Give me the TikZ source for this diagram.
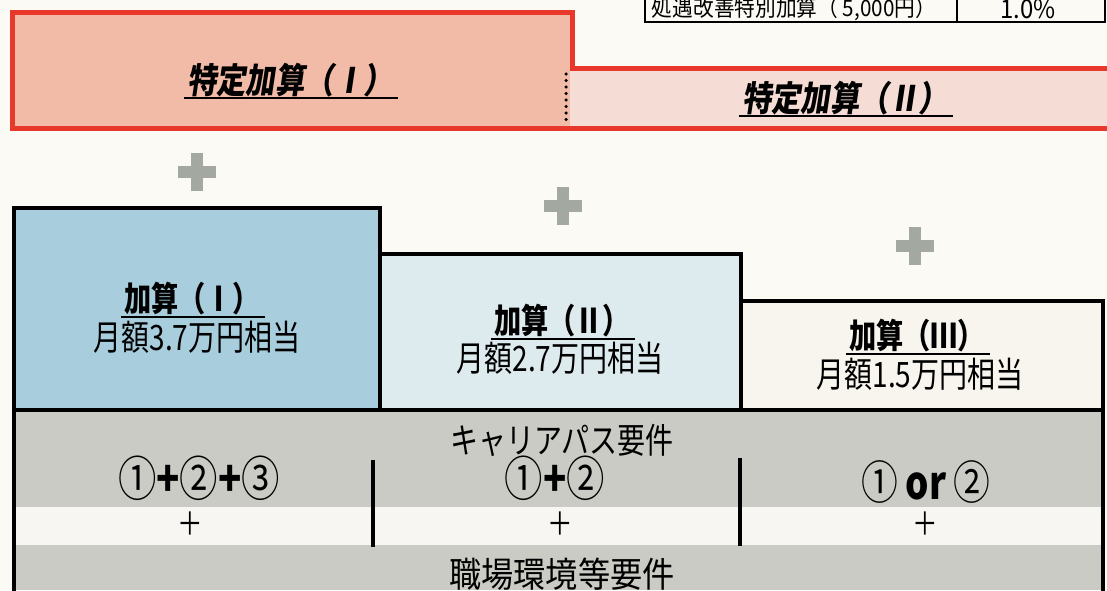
\documentclass[tikz,border=0pt]{standalone}
\usepackage{fontspec}
\newfontfamily\jp[FakeStretch=0.8]{Noto Sans CJK JP}
\newfontfamily\jpw[FakeStretch=0.92]{Noto Sans CJK JP}
\newfontfamily\jpsl[FakeStretch=0.84,FakeSlant=0.15]{Noto Sans CJK JP}
\definecolor{bgcol}{HTML}{FCFAF4}
\definecolor{pinkA}{HTML}{F2BBA8}
\definecolor{pinkB}{HTML}{F5DDD5}
\definecolor{redline}{HTML}{E8382B}
\definecolor{blueA}{HTML}{A8CEDD}
\definecolor{blueB}{HTML}{DDEAEE}
\definecolor{creamC}{HTML}{F8F5EE}
\definecolor{grayA}{HTML}{CBCBC5}
\definecolor{bandW}{HTML}{F7F6F2}
\definecolor{plusgray}{HTML}{A3A9A1}
\tikzset{
  txt/.style={inner sep=1pt, font=\jp\fontsize{#1}{#1}\selectfont},
  txtw/.style={inner sep=1pt, font=\jpw\fontsize{#1}{#1}\selectfont},
  head/.style={inner sep=1pt, font=\jp\bfseries\fontsize{34}{34}\selectfont},
  redhead/.style={inner sep=1pt, font=\jpsl\bfseries\fontsize{35}{35}\selectfont},
  uline/.style={line width=2.2pt, shorten <=-2pt, shorten >=-4pt},
  boxline/.style={line width=4pt, line join=miter},
  divider/.style={line width=4pt},
  gplus/.pic={\fill[plusgray] (-19,-6) rectangle (19,6); \fill[plusgray] (-6,-19) rectangle (6,19);}
}
\begin{document}
\begin{tikzpicture}[x=1pt,y=-1pt]
\useasboundingbox (0,0) rectangle (1107,590);
\fill[bgcol] (0,0) rectangle (1107,590);
% table fragment
\draw[line width=2pt] (645,-3) -- (645,22) -- (1105,22) -- (1105,-3);
\draw[line width=2pt] (957,-3) -- (957,22);
\node[txtw=22.5] (t1) at (794,9) {処遇改善特別加算（\ 5,000円）};
\node[txtw=26] (t2) at (1028,9) {1.0\%};
% red boxes
\fill[pinkA] (12,12) rectangle (570,128);
\fill[pinkB] (570,68) rectangle (1110,128);
\draw[redline, line width=5pt, line join=miter] (1112,68) -- (572,68) -- (572,12) -- (12,12) -- (12,128) -- (1112,128);
\draw[black, line width=3.5pt, line cap=round, dash pattern=on 0pt off 6.5pt] (566,74) -- (566,123);
\node[redhead] (s1) at (290,80) {特定加算（Ⅰ）};
\draw[uline] (s1.south west) -- (s1.south east);
\node[redhead] (s2) at (845,98) {特定加算（Ⅱ）};
\draw[uline] (s2.south west) -- (s2.south east);
% gray plus signs
\pic at (197,172) {gplus};
\pic at (563,206) {gplus};
\pic at (915,246) {gplus};
% level boxes
\fill[grayA] (14,410) rectangle (1103,590);
\fill[bandW] (14,507) rectangle (1103,545);
\filldraw[boxline, fill=blueA] (14,208) rectangle (380,410);
\filldraw[boxline, fill=blueB] (380,254) rectangle (741,410);
\filldraw[boxline, fill=creamC] (741,301) rectangle (1103,410);
\draw[boxline] (14,410) -- (14,595);
\draw[boxline] (1103,410) -- (1103,595);
\node[head] (h1) at (192,299) {加算（Ⅰ）};
\draw[uline] (h1.south west) -- (h1.south east);
\node[txt=35] (m1) at (197,337) {月額3.7万円相当};
\node[head] (h2) at (562,321) {加算（Ⅱ）};
\draw[uline] (h2.south west) -- (h2.south east);
\node[txt=35] (m2) at (560,358) {月額2.7万円相当};
\node[head] (h3) at (917,336) {加算（Ⅲ）};
\draw[uline] (h3.south west) -- (h3.south east);
\node[txt=35] (m3) at (920,374) {月額1.5万円相当};
% requirement area
\node[txt=35] (cp) at (562,440) {キャリアパス要件};
\node[txt=48] (r1) at (199,478) {①\textbf{+}②\textbf{+}③};
\node[txt=48] (r2) at (555,478) {①\textbf{+}②};
\node[txt=46] (r3) at (926,482) {①\,\textbf{or}\,②};
\node[txt=32] (p1) at (190,524) {＋};
\node[txt=32] (p2) at (560,524) {＋};
\node[txt=32] (p3) at (925,524) {＋};
\node[txtw=35] (sk) at (562,574) {職場環境等要件};
\coordinate (d1t) at (373,460); \coordinate (d1b) at (373,547);
\coordinate (d2t) at (740,458); \coordinate (d2b) at (740,546);
\draw[divider] (d1t) -- (d1b);
\draw[divider] (d2t) -- (d2b);
\end{tikzpicture}
\end{document}
